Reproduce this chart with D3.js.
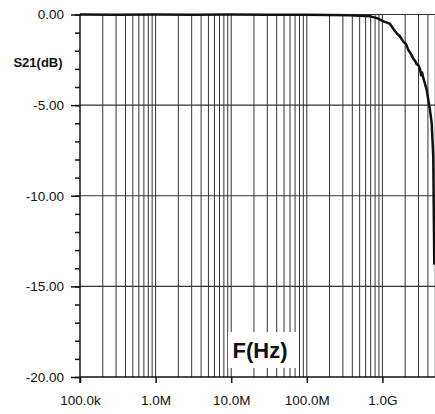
<!DOCTYPE html>
<html>
<head>
<meta charset="utf-8">
<script src="https://cdn.jsdelivr.net/npm/d3@7"></script>
<style>
  body { margin: 0; background: #fff; }
  text { font-family: "Liberation Sans", Arial, sans-serif; fill: #111; }
</style>
</head>
<body>
<div id="canvas"></div>
<script>
var freqs = [1e5, 3e5, 1e6, 3e6, 1e7, 3e7, 1e8, 2e8, 3.7e8, 5.9e8, 6.8e8, 8.5e8,
  1.03e9, 1.15e9, 1.26e9, 1.4e9, 1.55e9, 1.7e9, 1.89e9, 2.05e9, 2.2e9, 2.4e9, 2.57e9,
  2.7e9, 2.85e9, 3.0e9, 3.14e9, 3.25e9, 3.35e9, 3.47e9, 3.65e9,
  3.86e9, 4.05e9, 4.26e9, 4.49e9, 4.71e9, 4.8e9, 4.86e9];
var s21 = [0, -0.01, 0, -0.01, 0, -0.02, -0.02, -0.03, -0.04, -0.08, -0.1, -0.2,
  -0.38, -0.45, -0.52, -0.8, -1.04, -1.2, -1.5, -1.62, -1.95, -2.2, -2.45,
  -2.55, -2.75, -2.8, -3.0, -3.35, -3.2, -3.5, -3.8,
  -4.17, -4.72, -5.27, -5.99, -7.86, -11.5, -13.8];

var xTickVals = [1e5, 1e6, 1e7, 1e8, 1e9];
var xTickLabels = ["100.0k", "1.0M", "10.0M", "100.0M", "1.0G"];
var yTickVals = [0, -5, -10, -15, -20];

var W = 435, H = 414;
var mLeft = 80, mTop = 14.5, mBottom = 377;

var svg = d3.select("#canvas").append("svg")
  .attr("width", W).attr("height", H);

svg.append("rect").attr("width", W).attr("height", H).attr("fill", "#fff");

var x = d3.scaleLog().domain([1e5, 1e10]).range([mLeft, mLeft + 5 * 75.6]);
var y = d3.scaleLinear().domain([-20, 0]).range([mBottom, mTop]);

// vertical grid: every 1..9 in each decade
var vgrid = [];
for (var d = 1e5; d < 1e10; d *= 10) {
  for (var k = 1; k < 10; k++) {
    if (k * d > 1e5 && x(k * d) < W + 2) vgrid.push(k * d);
  }
}
svg.append("g").selectAll("line").data(vgrid).enter().append("line")
  .attr("x1", function (v) { return x(v); })
  .attr("x2", function (v) { return x(v); })
  .attr("y1", mTop).attr("y2", mBottom)
  .attr("stroke", "#333").attr("stroke-width", 1);

// horizontal grid at major y ticks
svg.append("g").selectAll("line").data([0, -5, -10, -15]).enter().append("line")
  .attr("x1", mLeft).attr("x2", W)
  .attr("y1", function (v) { return y(v); })
  .attr("y2", function (v) { return y(v); })
  .attr("stroke", "#333").attr("stroke-width", 1.2);

// F(Hz) label box covers the grid
svg.append("rect").attr("x", 228).attr("y", 332).attr("width", 69).attr("height", 36)
  .attr("fill", "#fff");
svg.append("text").attr("x", 260).attr("y", 358).attr("text-anchor", "middle")
  .style("font-size", "22px").style("font-weight", "bold").text("F(Hz)");

// left axis with 1 dB minor ticks
var yAxis = svg.append("g").attr("transform", "translate(" + mLeft + ",0)");
yAxis.call(d3.axisLeft(y).tickValues(d3.range(-20, 1, 1)).tickSize(5).tickFormat(""));
yAxis.call(function (g) {
  g.select(".domain").remove();
  g.selectAll(".tick line").attr("stroke", "#111").attr("stroke-width", 1.5);
});
var yMajor = svg.append("g").attr("transform", "translate(" + mLeft + ",0)")
  .call(d3.axisLeft(y).tickValues(yTickVals).tickSize(9).tickPadding(7)
    .tickFormat(function (v) { return v.toFixed(2); }));
yMajor.select(".domain").remove();
yMajor.selectAll(".tick line").attr("stroke", "#111").attr("stroke-width", 1.5);
yMajor.selectAll("text").style("font-size", "13.5px").attr("fill", "#111");

// bottom axis
var xAxis = svg.append("g").attr("transform", "translate(0," + mBottom + ")")
  .call(d3.axisBottom(x).tickValues(xTickVals).tickSize(6).tickPadding(12)
    .tickFormat(function (v, i) { return xTickLabels[i]; }));
xAxis.select(".domain").remove();
xAxis.selectAll(".tick line").attr("stroke", "#111").attr("stroke-width", 1.5);
xAxis.selectAll("text").style("font-size", "13.5px").attr("fill", "#111");

svg.append("line").attr("x1", mLeft).attr("x2", W).attr("y1", mBottom).attr("y2", mBottom)
  .attr("stroke", "#111").attr("stroke-width", 1.5);
svg.append("line").attr("x1", mLeft).attr("x2", mLeft).attr("y1", mTop).attr("y2", mBottom + 6)
  .attr("stroke", "#111").attr("stroke-width", 1.5);

svg.append("text").attr("x", 38).attr("y", 67).attr("text-anchor", "middle")
  .style("font-size", "13px").style("font-weight", "bold").text("S21(dB)");

// the curve
var line = d3.line()
  .x(function (d, i) { return x(freqs[i]); })
  .y(function (d) { return y(d); });
svg.append("path").datum(s21)
  .attr("d", line)
  .attr("fill", "none").attr("stroke", "#111").attr("stroke-width", 2.5)
  .attr("stroke-linejoin", "round");
</script>
</body>
</html>
